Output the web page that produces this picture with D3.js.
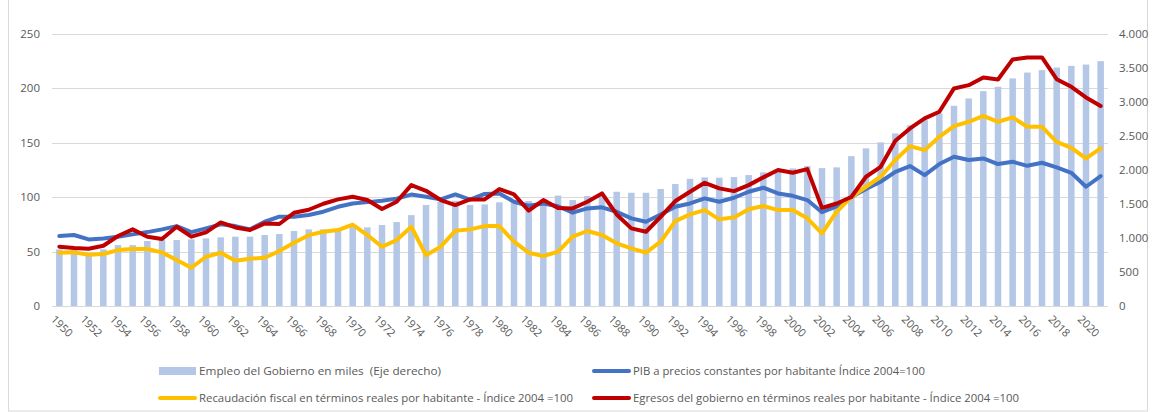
<!DOCTYPE html>
<html>
<head>
<meta charset="utf-8">
<script src="https://cdn.jsdelivr.net/npm/d3@7"></script>
<style>
  body { margin: 0; background: #fff; }
  svg { display: block; font-family: "Open Sans", "Noto Sans", sans-serif; }
</style>
</head>
<body>
<svg width="1156" height="412"></svg>
<script>
const years = d3.range(1950, 2022);

// Empleo del Gobierno en miles (eje derecho)
const empleo = [832, 821, 773, 832, 894, 894, 954, 968, 968, 978,
  992, 1008, 1018, 1018, 1042, 1056, 1101, 1125, 1125, 1130,
  1168, 1154, 1189, 1232, 1334, 1482, 1530, 1544, 1482, 1491,
  1522, 1531, 1541, 1531, 1621, 1555, 1614, 1608, 1677, 1662,
  1662, 1717, 1790, 1867, 1888, 1883, 1893, 1922, 1962, 1995,
  2019, 2054, 2024, 2035, 2200, 2314, 2402, 2533, 2651, 2728,
  2827, 2939, 3046, 3154, 3218, 3341, 3427, 3462, 3501, 3525,
  3544, 3594];

// PIB a precios constantes por habitante, indice 2004=100
const pib = [64.2, 65.1, 61.1, 62, 63.6, 65.7, 67.8, 70.3, 73.3, 67.8,
  71.2, 74.9, 73.3, 70.3, 77.3, 81.9, 81.9, 83.5, 86.5, 91,
  94, 95.3, 96.5, 98.5, 102.2, 100.2, 97.8, 102.4, 97.5, 102.8,
  103.3, 95.6, 92, 94, 91.5, 85.6, 89.5, 90.5, 86.5, 80.4,
  77.3, 84, 91, 94.1, 98.7, 95.6, 99.3, 104.8, 108.5, 103.3,
  101.1, 97.2, 86, 91.3, 100, 107.3, 114, 123.1, 128.4, 120.1,
  130.2, 136.9, 133.9, 135.4, 130.2, 132.3, 128.6, 131.4, 127.2, 122.2,
  109.4, 119.2];

// Recaudacion fiscal por habitante, indice 2004=100
const recaudacion = [48.9, 49.2, 47, 47.7, 51.3, 52.3, 52.3, 49.2, 42.2, 35.1,
  45.2, 48.9, 41.5, 43.4, 44.3, 50.4, 58, 65, 68.1, 69.7,
  74.6, 65.1, 54.4, 60.5, 72.7, 46.6, 54.4, 69, 70.3, 73.3,
  73.3, 59, 48.9, 45.8, 49.8, 63.6, 68.8, 65.1, 57.5, 52.9,
  48.9, 59, 77.9, 84, 88, 79.5, 81.3, 88.7, 91.7, 88,
  88, 80.4, 66.6, 86.5, 100, 109.4, 118.6, 133.9, 146.7, 143,
  155.2, 165, 169, 174.5, 169, 173, 164.4, 164.4, 150.6, 145.1,
  135.4, 144.6];

// Egresos del gobierno por habitante, indice 2004=100
const egresos = [54.4, 53.2, 52.6, 55.3, 64.2, 70.3, 63.6, 61.4, 72.7, 63.6,
  67.6, 76.7, 72.1, 69.7, 75.8, 75.2, 85.5, 88.3, 93.8, 97.8,
  100.2, 97.2, 89, 95.6, 110.9, 105.7, 97.2, 92.6, 97.8, 97.8,
  107.3, 102.4, 87.4, 97.2, 90, 89.5, 95.6, 103.3, 84, 71.2,
  68.1, 81.9, 96.3, 104.8, 113, 107.9, 105.4, 110.9, 118, 124.7,
  122.2, 125.6, 90, 94, 100, 118.6, 127.7, 151.6, 162.9, 172.1,
  178.2, 199.6, 202.6, 209.6, 207.8, 226.2, 228, 228, 208.1, 201.1,
  191.3, 183.4];

const leftTicks = [0, 50, 100, 150, 200, 250];
const rightTicks = [0, 500, 1000, 1500, 2000, 2500, 3000, 3500, 4000];

const seriesLines = [
  { name: "PIB a precios constantes por habitante Índice 2004=100", values: pib, color: "#4472C4" },
  { name: "Recaudación fiscal en términos reales por habitante - Índice 2004 =100", values: recaudacion, color: "#FFC000" },
  { name: "Egresos del gobierno en términos reales por habitante - Índice 2004 =100", values: egresos, color: "#C00000" }
];

const svg = d3.select("svg");
const plotLeft = 52, plotRight = 1108, plotTop = 33.5, plotBottom = 306;

const x = d3.scaleBand().domain(years).range([plotLeft, plotRight]);
const yL = d3.scaleLinear().domain([0, 250]).range([plotBottom, plotTop]);
const yR = d3.scaleLinear().domain([0, 4000]).range([plotBottom, plotTop]);

const esFormat = d3.formatLocale({ decimal: ",", thousands: ".", grouping: [3], currency: ["$", ""] }).format(",");

// chart frame
svg.append("rect")
  .attr("x", 8.5).attr("y", -2).attr("width", 1139).attr("height", 413)
  .attr("fill", "none").attr("stroke", "#D9D9D9");

// gridlines
svg.append("g").selectAll("line")
  .data(leftTicks)
  .join("line")
  .attr("x1", plotLeft).attr("x2", plotRight)
  .attr("y1", d => Math.round(yL(d)) + 0.5)
  .attr("y2", d => Math.round(yL(d)) + 0.5)
  .attr("stroke", "#D9D9D9")
  .attr("stroke-width", 1);

// left axis labels
svg.append("g").selectAll("text")
  .data(leftTicks)
  .join("text")
  .attr("x", 40)
  .attr("y", d => yL(d) + 4)
  .attr("text-anchor", "end")
  .attr("font-size", 11.5)
  .attr("fill", "#595959")
  .text(d => d);

// right axis labels
svg.append("g").selectAll("text")
  .data(rightTicks)
  .join("text")
  .attr("x", 1119)
  .attr("y", d => yR(d) + 4)
  .attr("text-anchor", "start")
  .attr("font-size", 11.5)
  .attr("fill", "#595959")
  .text(d => esFormat(d));

// bars
const barW = 6.5;
svg.append("g").selectAll("rect")
  .data(years)
  .join("rect")
  .attr("x", (d) => x(d) + x.bandwidth() / 2 - barW / 2)
  .attr("y", (d, i) => yR(empleo[i]))
  .attr("width", barW)
  .attr("height", (d, i) => plotBottom - yR(empleo[i]))
  .attr("fill", "#B4C7E7");

// x labels, every two years
svg.append("g").selectAll("text")
  .data(years.filter(d => d % 2 === 0))
  .join("text")
  .attr("transform", d => "translate(" + (x(d) + x.bandwidth() / 2 - 9) + ",320) rotate(45)")
  .attr("font-size", 11)
  .attr("fill", "#595959")
  .text(d => d);

// lines
const line = d3.line()
  .x((d, i) => x(years[i]) + x.bandwidth() / 2)
  .y(d => yL(d));

seriesLines.forEach(function(s) {
  svg.append("path")
    .datum(s.values)
    .attr("d", line)
    .attr("fill", "none")
    .attr("stroke", s.color)
    .attr("stroke-width", 4)
    .attr("stroke-linejoin", "round")
    .attr("stroke-linecap", "round");
});

// legend
const legendItems = [
  { name: "Empleo del Gobierno en miles  (Eje derecho)", color: "#B4C7E7", bar: true, x: 159, y: 371, w: 242 },
  { name: seriesLines[0].name, color: seriesLines[0].color, x: 593, y: 371, w: 292 },
  { name: seriesLines[1].name, color: seriesLines[1].color, x: 159, y: 398, w: 374 },
  { name: seriesLines[2].name, color: seriesLines[2].color, x: 593, y: 398, w: 386 }
];

const legend = svg.append("g");
legendItems.forEach(function(item) {
  if (item.bar) {
    legend.append("rect")
      .attr("x", item.x).attr("y", item.y - 4)
      .attr("width", 37).attr("height", 8)
      .attr("fill", item.color);
  } else {
    legend.append("line")
      .attr("x1", item.x + 1).attr("x2", item.x + 36)
      .attr("y1", item.y).attr("y2", item.y)
      .attr("stroke", item.color)
      .attr("stroke-width", 4)
      .attr("stroke-linecap", "round");
  }
  legend.append("text")
    .attr("x", item.x + 40)
    .attr("y", item.y + 4)
    .attr("font-size", 11.5)
    .attr("fill", "#595959")
    .style("white-space", "pre")
    .attr("textLength", item.w)
    .attr("lengthAdjust", "spacingAndGlyphs")
    .text(item.name);
});
</script>
</body>
</html>
